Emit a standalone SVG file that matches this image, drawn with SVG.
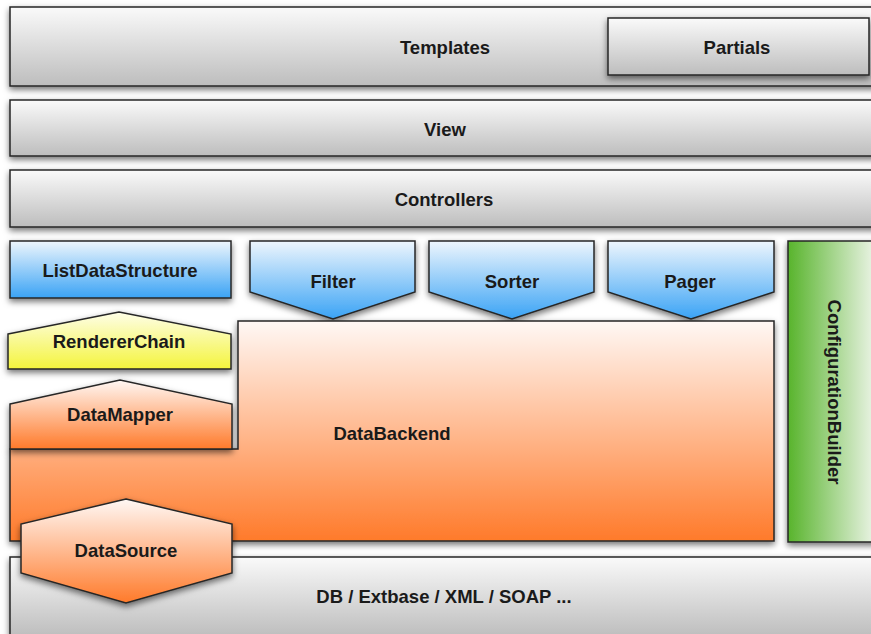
<svg xmlns="http://www.w3.org/2000/svg" width="871" height="634" viewBox="0 0 871 634">
<defs>
<linearGradient id="gGray" x1="0" y1="0" x2="0" y2="1"><stop offset="0" stop-color="#fafafa"/><stop offset="1" stop-color="#bdbdbd"/></linearGradient>
<linearGradient id="gBlue" x1="0" y1="0" x2="0" y2="1"><stop offset="0" stop-color="#eef6fd"/><stop offset="1" stop-color="#3aa3f5"/></linearGradient>
<linearGradient id="gYellow" x1="0" y1="0" x2="0" y2="1"><stop offset="0" stop-color="#fefee8"/><stop offset="1" stop-color="#f4f43c"/></linearGradient>
<linearGradient id="gOrange" x1="0" y1="0" x2="0" y2="1"><stop offset="0" stop-color="#fff8f5"/><stop offset="1" stop-color="#ff7a2a"/></linearGradient>
<linearGradient id="gBackend" gradientUnits="userSpaceOnUse" x1="0" y1="321" x2="0" y2="541"><stop offset="0" stop-color="#fff8f5"/><stop offset="1" stop-color="#ff7a2a"/></linearGradient>
<linearGradient id="gGreen" x1="0" y1="0" x2="1" y2="0"><stop offset="0" stop-color="#58b42c"/><stop offset="1" stop-color="#f0f6ec"/></linearGradient>
<filter id="sh" x="-10%" y="-10%" width="120%" height="130%"><feDropShadow dx="0" dy="3" stdDeviation="3" flood-color="#000" flood-opacity="0.55"/></filter>
</defs>
<style>
.box{stroke:#262626;stroke-width:1.5;filter:url(#sh)}
.gray{fill:url(#gGray)}
.blue{fill:url(#gBlue)}
.yellow{fill:url(#gYellow)}
.orange{fill:url(#gOrange)}
text{font-family:"Liberation Sans",Arial,Helvetica,sans-serif;font-weight:bold;font-size:18.5px;fill:#1a1a1a;text-anchor:middle;dominant-baseline:central}
</style>
<rect width="871" height="634" fill="#ffffff"/>
<g id="templates"><rect class="box gray" x="10" y="7" width="868" height="79"/><text x="445" y="47">Templates</text></g>
<g id="partials"><rect class="box gray" x="608" y="18" width="261" height="57"/><text x="737" y="47">Partials</text></g>
<g id="view"><rect class="box gray" x="10" y="100" width="868" height="56"/><text x="445" y="129">View</text></g>
<g id="controllers"><rect class="box gray" x="10" y="170" width="868" height="57"/><text x="444" y="199">Controllers</text></g>
<g id="listdatastructure"><rect class="box blue" x="10" y="241" width="221" height="57"/><text x="120" y="270">ListDataStructure</text></g>
<g id="filter"><polygon class="box blue" points="250,241 415,241 415,292 333,319 250,292"/><text x="333" y="281">Filter</text></g>
<g id="sorter"><polygon class="box blue" points="429,241 594,241 594,292 512,319 429,292"/><text x="512" y="281">Sorter</text></g>
<g id="pager"><polygon class="box blue" points="608,241 774,241 774,292 691,319 608,292"/><text x="690" y="281">Pager</text></g>
<g id="configurationbuilder"><rect class="box" fill="url(#gGreen)" x="788" y="241" width="90" height="301"/><text transform="translate(834,392) rotate(90)">ConfigurationBuilder</text></g>
<g id="databackend"><polygon class="box" fill="url(#gBackend)" points="238,321 774,321 774,541 10,541 10,449 238,449"/><text x="392" y="433">DataBackend</text></g>
<g id="rendererchain"><polygon class="box yellow" points="8,334 119,312 231,334 231,369 8,369"/><text x="119" y="341">RendererChain</text></g>
<g id="datamapper"><polygon class="box orange" points="10,404 120,380 232,404 232,449 10,449"/><text x="120" y="414">DataMapper</text></g>
<g id="db"><rect class="box gray" x="10" y="557" width="868" height="80"/><text x="444" y="596">DB / Extbase / XML / SOAP ...</text></g>
<g id="datasource"><polygon class="box orange" points="126,499 232,524 232,573 126,603 21,573 21,524"/><text x="126" y="550">DataSource</text></g>
<g id="connectors"/>
</svg>
